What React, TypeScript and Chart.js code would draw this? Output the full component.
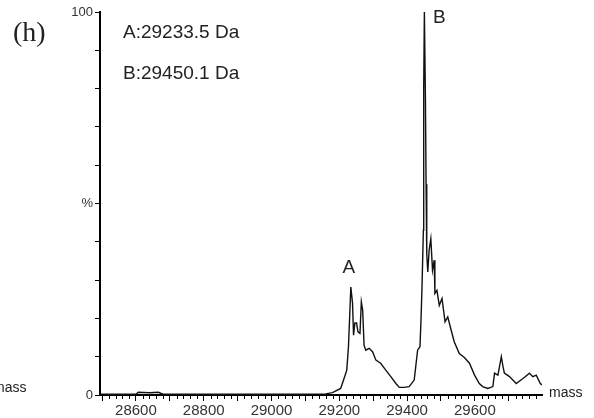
import React, { useEffect, useRef } from "react";
import { Chart, registerables } from "chart.js";

Chart.register(...registerables);

// ---- data ----
const masses = [
  28494, 28600, 28607, 28640, 28666, 28680, 29100, 29160, 29180, 29204,
  29214, 29222, 29227, 29231, 29234, 29239, 29242, 29246, 29251, 29255,
  29261, 29265, 29269, 29273, 29278, 29288, 29298, 29308, 29322, 29337,
  29352, 29367, 29377, 29391, 29406, 29421, 29431, 29438, 29441, 29444,
  29448, 29449, 29451, 29454, 29456, 29458, 29461, 29465, 29470, 29475,
  29480, 29482, 29488, 29495, 29503, 29512, 29520, 29530, 29539, 29554,
  29569, 29584, 29599, 29613, 29623, 29638, 29653, 29658, 29668, 29678,
  29683, 29687, 29702, 29722, 29742, 29761, 29771, 29781, 29793, 29798,
];
const intensities = [
  0.2, 0.2, 0.7, 0.6, 0.7, 0.2, 0.2, 0.3, 0.6, 1.7,
  4.3, 6.5, 12.6, 21.4, 28.2, 24, 15.6, 18.8, 18.8, 16.5,
  16.1, 24.3, 22.1, 13, 11.7, 12.2, 11.3, 9.1, 8.3, 6.5,
  4.8, 3, 2, 2, 2.2, 3.9, 11.7, 12.6, 19.5, 28.2,
  43, 80, 100, 78, 55, 36.9, 32.1, 37.8, 40.8, 32.6,
  35.2, 26.5, 27.3, 23.4, 25.2, 19.1, 20.4, 16.9, 13.9, 10.8,
  9.8, 8.3, 5.2, 3, 2.2, 1.7, 2.2, 5.7, 5.2, 10,
  7.4, 5.7, 4.8, 3, 4.3, 5.7, 4.8, 5.2, 3, 2.6,
];
const xMin = 28494;
const xMax = 29798;
const xTickStep = 20;
const xMajorEvery = 100;
const xLabelEvery = 200;
const yTickStep = 10;
const yTickLabels: Record<number, string> = { 100: "100", 50: "%", 0: "0" };
const peakNames = ["A", "B"];
const peakMasses = [29234, 29451];
const peakValues = [28.2, 100];
const legendLines = ["A:29233.5 Da", "B:29450.1 Da"];
const panelLabel = "(h)";
const axisTitle = "mass";

const SANS = "'Liberation Sans', Arial, sans-serif";
const SERIF = "'Liberation Serif', 'Times New Roman', serif";

const overlayPlugin = {
  id: "overlay",
  afterDraw(chart: any) {
    const { ctx, chartArea, scales } = chart;
    const xs = scales.x;
    const ys = scales.y;
    ctx.save();
    // short minor ticks on the mass axis
    ctx.strokeStyle = "#000";
    ctx.lineWidth = 1;
    ctx.beginPath();
    for (let v = Math.ceil(xMin / xTickStep) * xTickStep; v <= xMax; v += xTickStep) {
      if (v % xMajorEvery === 0) continue;
      const px = Math.round(xs.getPixelForValue(v)) + 0.5;
      ctx.moveTo(px, chartArea.bottom);
      ctx.lineTo(px, chartArea.bottom + 4);
    }
    ctx.stroke();

    ctx.fillStyle = "#222";
    ctx.textBaseline = "middle";
    // panel label
    ctx.font = `28px ${SERIF}`;
    ctx.textAlign = "left";
    ctx.fillText(panelLabel, 13, 34);
    // legend text
    ctx.font = `19px ${SANS}`;
    ctx.fillText(legendLines[0], 123, 33);
    ctx.fillText(legendLines[1], 123, 74);
    // peak labels
    ctx.textAlign = "center";
    const ax = xs.getPixelForValue(peakMasses[0]);
    const ay = ys.getPixelForValue(peakValues[0]);
    ctx.fillText(peakNames[0], ax - 2, ay - 19);
    const bx = xs.getPixelForValue(peakMasses[1]);
    const by = ys.getPixelForValue(peakValues[1]);
    ctx.fillText(peakNames[1], bx + 15, by + 6);
    // axis titles
    ctx.font = `14px ${SANS}`;
    ctx.textAlign = "left";
    ctx.fillText(axisTitle, chartArea.right + 7, chartArea.bottom - 2);
    ctx.fillText(axisTitle, -7, chartArea.bottom - 7);
    ctx.restore();
  },
};

export default function App() {
  const ref = useRef<HTMLCanvasElement | null>(null);
  useEffect(() => {
    if (!ref.current) return;
    const chart = new Chart(ref.current, {
      type: "line",
      data: {
        datasets: [
          {
            data: masses.map((m, i) => ({ x: m, y: intensities[i] })),
            borderColor: "#111",
            borderWidth: 1.4,
            pointRadius: 0,
            tension: 0,
            fill: false,
          },
        ],
      },
      options: {
        animation: false,
        responsive: false,
        devicePixelRatio: 1,
        layout: { padding: { left: 0, right: 52, top: 12, bottom: 0 } },
        plugins: { legend: { display: false }, tooltip: { enabled: false } },
        scales: {
          x: {
            type: "linear",
            min: xMin,
            max: xMax,
            afterFit: (s: any) => {
              s.height = 23;
            },
            border: { display: true, color: "#000", width: 2 },
            grid: {
              display: true,
              drawOnChartArea: false,
              drawTicks: true,
              tickLength: 6,
              tickColor: (c: any) =>
                c.tick && c.tick.value % xMajorEvery === 0 ? "#000" : "rgba(0,0,0,0)",
            },
            ticks: {
              stepSize: xTickStep,
              autoSkip: false,
              includeBounds: false,
              maxRotation: 0,
              padding: 1,
              color: "#333",
              font: { family: SANS, size: 15 },
              callback: (v: any) => (Number(v) % xLabelEvery === 0 ? String(v) : ""),
            },
          },
          y: {
            min: 0,
            max: 100,
            afterFit: (s: any) => {
              s.width = 100;
            },
            border: { display: true, color: "#000", width: 2 },
            grid: {
              display: true,
              drawOnChartArea: false,
              tickLength: 5,
              tickColor: "#000",
            },
            ticks: {
              stepSize: yTickStep,
              autoSkip: false,
              padding: 2,
              color: "#333",
              font: { family: SANS, size: 13 },
              callback: (v: any) => yTickLabels[Number(v)] ?? "",
            },
          },
        },
      },
      plugins: [overlayPlugin],
    });
    return () => chart.destroy();
  }, []);
  return (
    <div style={{ position: "fixed", left: 0, top: 0, width: 594, height: 418, background: "#fff" }}>
      <canvas ref={ref} width={594} height={418} style={{ display: "block" }} />
    </div>
  );
}
